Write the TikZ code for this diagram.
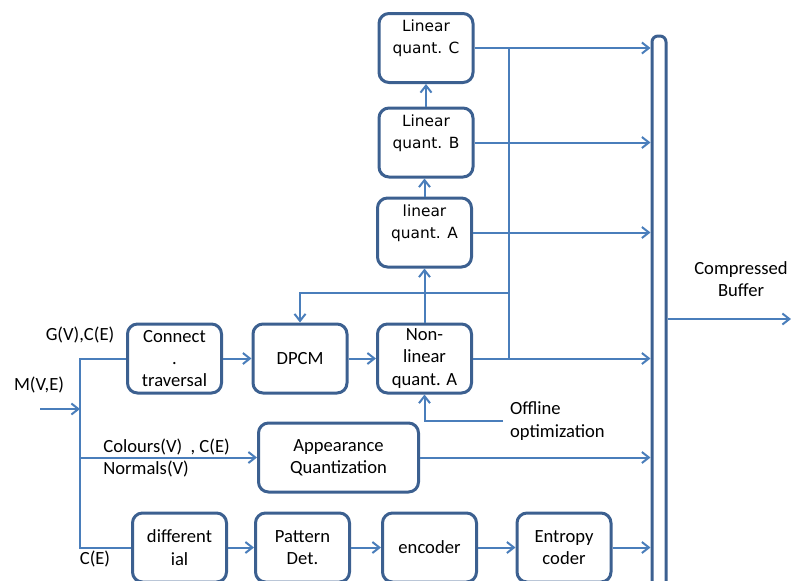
\documentclass[tikz,border=0pt]{standalone}
\usepackage{fontspec}
\setmainfont{Carlito}
\newfontfamily\dejavu{DejaVu Sans}
\usepackage{xcolor}
\usepackage{tikz}
\usetikzlibrary{arrows.meta, positioning}
\definecolor{boxblue}{HTML}{3C6090}
\definecolor{wireblue}{HTML}{4A7EBB}

\begin{document}
\begin{tikzpicture}[x=0.5pt, y=-0.5pt, font=\fontsize{9.3}{11.2}\selectfont,
    blk/.style={draw=boxblue, line width=1.5pt, rounded corners=5pt, fill=white, minimum width=47pt, minimum height=34.5pt, inner sep=1pt, align=center},
    qfont/.style={font=\dejavu\fontsize{7.7}{11}\selectfont},
    wire/.style={draw=wireblue, line width=1pt},
    arr/.style={wire, -{Straight Barb[length=3.5pt, width=5.5pt]}}]
    \useasboundingbox (0,0) rectangle (791,580);
    % Nodes
    \node (linC) [blk, qfont] at (426,48) {Linear\\quant. C\\~};
    \node (linB) [blk, qfont] at (426,142.5) {Linear\\quant. B\\~};
    \node (linA) [blk, qfont] at (424.5,232.5) {linear\\quant. A\\~};
    \node (nonlin) [blk] at (424.5,358.5) {Non-\\linear\\quant. A};
    \node (dpcm) [blk] at (300,358.5) {DPCM};
    \node (conn) [blk] at (174.5,358.5) {Connect\\.\\traversal};
    \node (appear) [blk, minimum width=80pt] at (338.5,457.5) {Appearance\\Quantization};
    \node (diff) [blk] at (179.5,547.5) {different\\ial};
    \node (pat) [blk] at (302.5,547.5) {Pattern\\Det.};
    \node (enc) [blk] at (429.5,547.5) {encoder};
    \node (ent) [blk] at (564,547.5) {Entropy\\coder};
    \node (buf) [draw=boxblue, line width=1.5pt, rounded corners=3pt, minimum width=7pt, minimum height=302pt, inner sep=0pt] at (659,338) {};
    % Labels
    \node (gv) at (80,335) {G(V),C(E)};
    \node (mv) at (39,385) {M(V,E)};
    \node (col) [anchor=west, align=left, inner sep=0pt] at (103,458) {Colours(V)\ \ , C(E)\\Normals(V)};
    \node (ce) at (95,559) {C(E)};
    \node (offl) [anchor=west, align=left] at (503,421) {Offline\\optimization};
    \node (cbuf) [align=center] at (741,279) {Compressed\\Buffer};
    % Coordinates
    \coordinate (in) at (40,409);
    \coordinate (bus) at (80,409);
    \coordinate (jn) at (509,293);
    \coordinate (out) at (791,319);
    % Arrows
    \draw[arr] (in) -- (bus);
    \draw[wire] (conn.west) -- (conn.west -| bus) -- (diff.west -| bus) -- (diff.west);
    \draw[arr] (appear.west -| bus) -- (appear.west);
    \draw[arr] (conn) -- (dpcm);
    \draw[arr] (dpcm) -- (nonlin);
    \draw[arr] (nonlin.north) -- (nonlin.north |- linA.south);
    \draw[arr] (linA.north) -- (linA.north |- linB.south);
    \draw[arr] (linB.north) -- (linC.south);
    \draw[wire] (linC.east -| jn) -- (nonlin.east -| jn);
    \draw[arr] (jn) -| (dpcm.north);
    \draw[arr] (offl.west) -| (nonlin.south);
    \draw[arr] (diff) -- (pat);
    \draw[arr] (pat) -- (enc);
    \draw[arr] (enc) -- (ent);
    \draw[arr] (linC.east) -- (linC.east -| buf.west);
    \draw[arr] (linB.east) -- (linB.east -| buf.west);
    \draw[arr] (linA.east) -- (linA.east -| buf.west);
    \draw[arr] (nonlin.east) -- (nonlin.east -| buf.west);
    \draw[arr] (appear.east) -- (appear.east -| buf.west);
    \draw[arr] (ent.east) -- (ent.east -| buf.west);
    \draw[arr] (buf.east |- out) -- (out);
\end{tikzpicture}
\end{document}
